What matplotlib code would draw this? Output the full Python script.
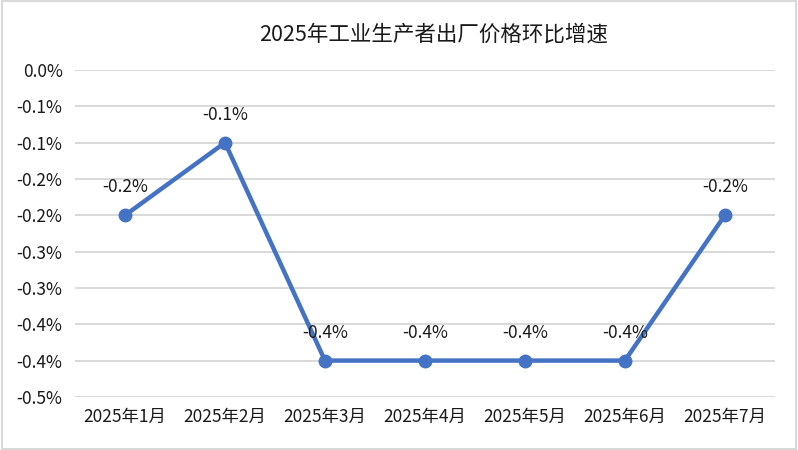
#!/usr/bin/env python3
"""2025年工业生产者出厂价格环比增速 line chart."""

from decimal import Decimal, ROUND_HALF_UP

import matplotlib
matplotlib.use("Agg")
import matplotlib.pyplot as plt
from matplotlib.patches import Rectangle
from matplotlib.ticker import FixedLocator, FuncFormatter

plt.rcParams["font.family"] = ["Noto Sans CJK SC", "DejaVu Sans"]

months = ["2025年1月", "2025年2月", "2025年3月", "2025年4月",
          "2025年5月", "2025年6月", "2025年7月"]
mom_growth = [-0.2, -0.1, -0.4, -0.4, -0.4, -0.4, -0.2]
y_ticks = [0.0, -0.05, -0.1, -0.15, -0.2, -0.25, -0.3, -0.35, -0.4, -0.45]

LINE_COLOR = "#4472C4"
GRID_COLOR = "#D9D9D9"


def pct(v, _pos=None):
    """Excel-style one-decimal percent with round-half-away."""
    d = Decimal(str(round(v, 4))).quantize(Decimal("0.1"), rounding=ROUND_HALF_UP)
    return f"{d}%"


fig = plt.figure(figsize=(7.98, 4.5), dpi=100)
ax = fig.add_axes([0.094, 0.118, 0.877, 0.7265])

x = list(range(len(months)))
ax.plot(x, mom_growth, color=LINE_COLOR, linewidth=3.2, marker="o",
        markersize=9, solid_capstyle="round", zorder=3)

for xi, v in zip(x, mom_growth):
    ax.annotate(pct(v), (xi, v), xytext=(0, 20), textcoords="offset points",
                ha="center", va="center", fontsize=12.5, color="#1a1a1a")

ax.set_xlim(-0.5, len(months) - 0.5)
ax.set_ylim(-0.45, 0.0)
ax.yaxis.set_major_locator(FixedLocator(y_ticks))
ax.yaxis.set_major_formatter(FuncFormatter(pct))
ax.set_xticks(x)
ax.set_xticklabels(months)
ax.tick_params(axis="both", length=0, labelsize=12.5, colors="#1a1a1a")
ax.tick_params(axis="x", pad=8)
ax.tick_params(axis="y", pad=9)
ax.grid(axis="y", color=GRID_COLOR, linewidth=1.4)
ax.set_axisbelow(True)
for s in ax.spines.values():
    s.set_visible(False)

fig.text(0.543, 0.922, "2025年工业生产者出厂价格环比增速", ha="center",
         va="center", fontsize=15.5, color="#1a1a1a")

# light gray frame round the chart area
fig.patches.append(Rectangle((0.002, 0.003), 0.996, 0.994, transform=fig.transFigure,
                             fill=False, edgecolor="#D9D9D9", linewidth=1.5))

fig.savefig("out.png", dpi=100)
